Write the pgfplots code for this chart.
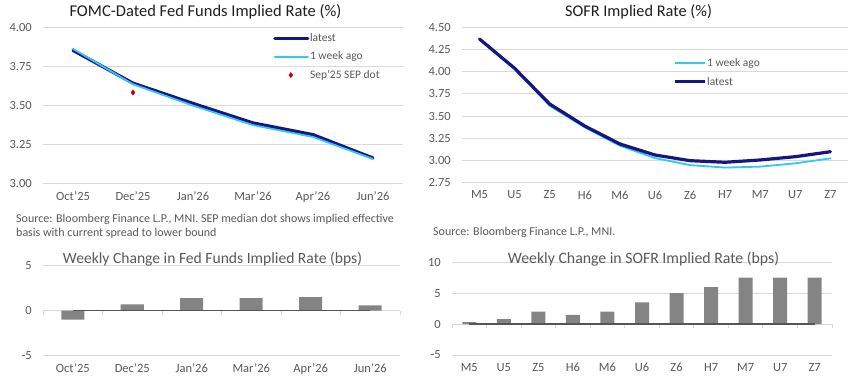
\documentclass[border=0pt]{standalone}
\usepackage{pgfplots}
\pgfplotsset{compat=1.18}
\usepackage{fontspec}
\setmainfont{Carlito}
\definecolor{navy}{RGB}{22,22,130}
\definecolor{cyanl}{RGB}{50,200,240}
\definecolor{dotred}{RGB}{192,0,0}
\definecolor{bargray}{RGB}{132,132,132}
\definecolor{darkline}{RGB}{85,85,85}
\definecolor{gridgray}{RGB}{217,217,217}
\definecolor{textgray}{RGB}{89,89,89}
\definecolor{titleblack}{RGB}{30,30,30}
\pgfplotsset{
  mystyle/.style={
    scale only axis, anchor=south west,
    axis line style={draw=none},
    major tick length=0pt,
    ymajorgrids, grid style={gridgray, line width=0.9pt},
    /pgf/number format/assume math mode=true,
    tick label style={font=\fontsize{12.5}{14}\selectfont, text=textgray},
    yticklabel style={inner xsep=0pt, xshift=-11pt},
    xticklabel style={inner ysep=0pt, yshift=-8pt},
    clip=false,
  },
  mylegend/.style={
    legend style={draw=none, fill=none, anchor=north west,
      inner sep=0pt, font=\fontsize{11.5}{13}\selectfont, text=textgray,
      row sep=0pt, nodes={inner sep=0.6pt}},
    legend cell align=left,
    legend image code/.code={\path[draw=none] (0pt,-9.2pt) -- (0pt,9.2pt); \draw[##1] (0pt,0pt) -- (#1,0pt);},
  },
  dotlegend/.style={
    legend image code/.code={\path[draw=none] (0pt,-9.2pt) -- (33pt,9.2pt); \draw[##1] plot coordinates {(16pt,0pt)};},
  },
}
\begin{document}
\begin{tikzpicture}
\useasboundingbox (0,0) rectangle (853pt,388pt);
% ---------------- Top left -----------------
\begin{axis}[mystyle, mylegend=33pt,
  at={(43pt,205pt)}, width=360pt, height=156pt,
  xmin=-0.5, xmax=5.5, ymin=3, ymax=4,
  ytick={3,3.25,3.5,3.75,4},
  yticklabel style={/pgf/number format/.cd, fixed, fixed zerofill, precision=2},
  xtick={0,...,5},
  xticklabels={Oct'25,Dec'25,Jan'26,Mar'26,Apr'26,Jun'26},
  legend style={at={(0.639,0.988)}},
]
\addplot[navy, line width=3.2pt, line cap=round, line join=round]
  coordinates {(0,3.85)(1,3.64)(2,3.51)(3,3.385)(4,3.31)(5,3.16)};
\addlegendentry{latest}
\addplot[cyanl, line width=1.8pt, line cap=round, line join=round]
  coordinates {(0,3.86)(1,3.633)(2,3.496)(3,3.371)(4,3.295)(5,3.154)};
\addlegendentry{1 week ago}
\addplot[only marks, mark=diamond*, mark size=2.6pt, color=dotred, dotlegend]
  coordinates {(1,3.58)};
\addlegendentry{Sep'25 SEP dot}
\end{axis}
% ---------------- Top right -----------------
\begin{axis}[mystyle, mylegend=30pt,
  at={(462pt,205.3pt)}, width=386pt, height=155.4pt,
  xmin=-0.5, xmax=10.5, ymin=2.75, ymax=4.5,
  ytick={2.75,3,3.25,3.5,3.75,4,4.25,4.5},
  yticklabel style={/pgf/number format/.cd, fixed, fixed zerofill, precision=2},
  xtick={0,...,10},
  xticklabels={M5,U5,Z5,H6,M6,U6,Z6,H7,M7,U7,Z7},
  legend style={at={(0.547,0.828)}},
]
\addlegendimage{cyanl, line width=2pt}
\addlegendentry{1 week ago}
\addlegendimage{navy, line width=3.2pt}
\addlegendentry{latest}
\addplot[cyanl, line width=1.8pt, line cap=round, line join=round, forget plot]
  coordinates {(0,4.365)(1,4.030)(2,3.616)(3,3.373)(4,3.166)(5,3.027)(6,2.948)(7,2.92)(8,2.931)(9,2.968)(10,3.024)};
\addplot[navy, line width=3.2pt, line cap=round, line join=round, forget plot]
  coordinates {(0,4.368)(1,4.038)(2,3.636)(3,3.388)(4,3.186)(5,3.062)(6,2.998)(7,2.98)(8,3.006)(9,3.043)(10,3.099)};
\end{axis}
% ---------------- Bottom left -----------------
\begin{axis}[mystyle,
  at={(43pt,32.3pt)}, width=357pt, height=90pt,
  xmin=-0.5, xmax=5.5, ymin=-5, ymax=5,
  ytick={-5,0,5},
  xtick={0,...,5},
  xticklabels={Oct'25,Dec'25,Jan'26,Mar'26,Apr'26,Jun'26},
]
\pgfplotsinvokeforeach{-0.5,0.5,1.5,2.5,3.5,4.5,5.5}{
  \draw[gridgray, line width=0.9pt] (axis cs:#1,0) -- ++(0pt,-4pt);
}
\addplot[ybar, bar width=23pt, fill=bargray, draw=none]
  coordinates {(0,-1.0)(1,0.7)(2,1.4)(3,1.4)(4,1.5)(5,0.6)};
\addplot[darkline, line width=1.3pt]
  coordinates {(0,0)(1,0)(2,0)(3,0)(4,0)(5,0)};
\end{axis}
% ---------------- Bottom right -----------------
\begin{axis}[mystyle,
  at={(452pt,33pt)}, width=380pt, height=92.7pt,
  xmin=-0.5, xmax=10.5, ymin=-5, ymax=10,
  ytick={-5,0,5,10},
  xtick={0,...,10},
  xticklabels={M5,U5,Z5,H6,M6,U6,Z6,H7,M7,U7,Z7},
]
\pgfplotsinvokeforeach{-0.5,0.5,1.5,2.5,3.5,4.5,5.5,6.5,7.5,8.5,9.5,10.5}{
  \draw[gridgray, line width=0.9pt] (axis cs:#1,0) -- ++(0pt,-4pt);
}
\addplot[ybar, bar width=14pt, fill=bargray, draw=none]
  coordinates {(0,0.3)(1,0.8)(2,2)(3,1.5)(4,2)(5,3.5)(6,5)(7,6)(8,7.5)(9,7.5)(10,7.5)};
\addplot[darkline, line width=1.3pt]
  coordinates {(0,0)(1,0)(2,0)(3,0)(4,0)(5,0)(6,0)(7,0)(8,0)(9,0)(10,0)};
\end{axis}
% ---------------- Titles and notes -----------------
\node[text=titleblack, font=\fontsize{16.5}{18}\selectfont] at (205.5pt,376pt) {FOMC-Dated Fed Funds Implied Rate (\%)};
\node[text=titleblack, font=\fontsize{16.3}{18}\selectfont] at (638.5pt,376pt) {SOFR Implied Rate (\%)};
\node[text=textgray, font=\fontsize{15.6}{17}\selectfont, anchor=base] at (212.5pt,124pt) {Weekly Change in Fed Funds Implied Rate (bps)};
\node[text=textgray, font=\fontsize{15.8}{17}\selectfont, anchor=base] at (643.5pt,124pt) {Weekly Change in SOFR Implied Rate (bps)};
\node[text=textgray, font=\fontsize{12}{14}\selectfont, anchor=base west, inner sep=0pt] at (16pt,165pt) {Source: Bloomberg Finance L.P., MNI. SEP median dot shows implied effective};
\node[text=textgray, font=\fontsize{12}{14}\selectfont, anchor=base west, inner sep=0pt] at (16pt,151pt) {basis with current spread to lower bound};
\node[text=textgray, font=\fontsize{12}{14}\selectfont, anchor=base west, inner sep=0pt] at (433pt,152pt) {Source: Bloomberg Finance L.P., MNI.};
\end{tikzpicture}
\end{document}
